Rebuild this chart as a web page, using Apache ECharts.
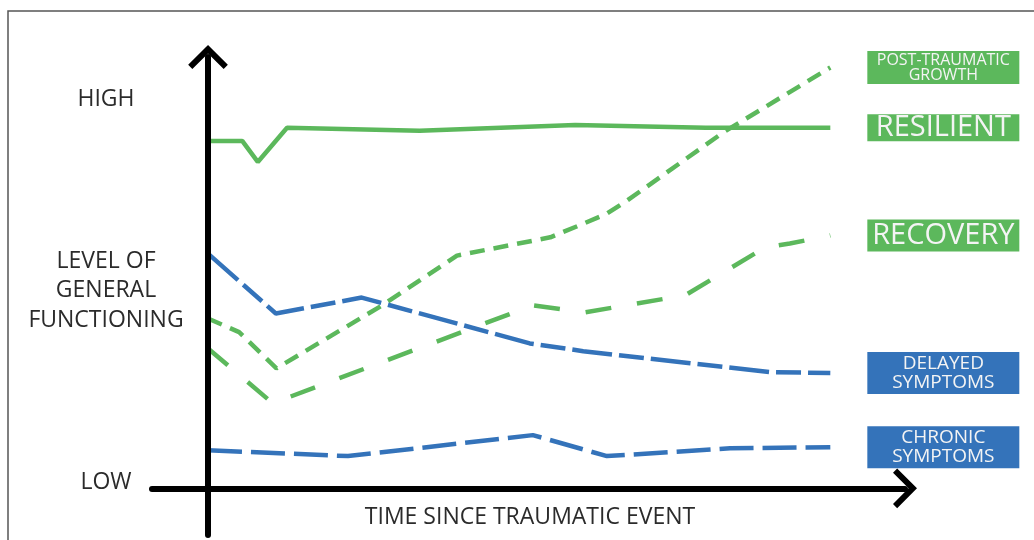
<!DOCTYPE html>
<html>
<head>
<meta charset="utf-8">
<script src="https://cdn.jsdelivr.net/npm/echarts@6/dist/echarts.min.js"></script>
<style>
  html, body { margin: 0; padding: 0; background: #fff; }
  #chart { width: 1034px; height: 540px; }
</style>
</head>
<body>
<div id="chart"></div>
<script>
// x: time since event (0 = event, 100 = end of the lines)
// y: level of functioning (0 = low axis, 100 = "HIGH")
const resilient = [[0, 89.4], [5.5, 89.4], [8, 84], [12.7, 92.8], [34, 92], [59, 93.5], [80, 92.8], [100, 92.8]]
const growth = [[0, 43.7], [5, 40.2], [11, 30.9], [28, 47.1], [40, 59.9], [55, 64.6], [60.3, 68.1], [64.1, 70.7], [67.3, 74], [82.8, 91.6], [100, 108.3]]
const recovery = [[0, 36], [10.4, 21.9], [52.2, 47.1], [60.6, 45.3], [76.7, 49.7], [89.5, 62], [93.5, 63], [100, 65.1]]
const delayed = [[0, 60.4], [10.9, 45], [24.7, 49.1], [51.7, 37.3], [60.3, 35.3], [77.5, 32.2], [90.3, 29.9], [100, 29.7]]
const chronic = [[0, 9.8], [22.5, 8.3], [52.2, 13.7], [64.1, 8.3], [83.9, 10.3], [100, 10.6]]

const seriesData = [growth, resilient, recovery, delayed, chronic]
const seriesNames = ['POST-TRAUMATIC\nGROWTH', 'RESILIENT', 'RECOVERY', 'DELAYED\nSYMPTOMS', 'CHRONIC\nSYMPTOMS']

const yTickValues = [1.6, 50.9, 100]
const yTickLabels = ['LOW', 'LEVEL OF\nGENERAL\nFUNCTIONING', 'HIGH']
const xTitle = 'TIME SINCE TRAUMATIC EVENT'

const GREEN = '#5cb85c'
const BLUE = '#3473ba'
const TEXT = '#2b2b2b'
const FONT = 'Open Sans'

// line + label box style, same order as seriesData
const styles = [
  { color: GREEN, dash: [15, 9], fontSize: 16, lineHeight: 15, padding: [2, 0, 1, 0] },
  { color: GREEN, dash: 'solid', fontSize: 29, lineHeight: 27, padding: [0, 0, 0, 0] },
  { color: GREEN, dash: [26, 26], fontSize: 29, lineHeight: 32, padding: [0, 0, 0, 0] },
  { color: BLUE, dash: [40, 7, 25, 7], fontSize: 19, lineHeight: 19, padding: [2, 0, 2, 0] },
  { color: BLUE, dash: [34, 9], fontSize: 19, lineHeight: 19, padding: [2, 0, 2, 0] }
]

// open chevron arrow head, pointing up
const chevron = 'path://M20 0 L40 20 L35.8 24.2 L20 8.5 L4.2 24.2 L0 20 Z'

const myChart = echarts.init(document.getElementById('chart'))

const series = seriesData.map(function (d, i) {
  const st = styles[i]
  return {
    name: seriesNames[i],
    type: 'line',
    data: d,
    symbol: 'none',
    lineStyle: { color: st.color, width: 4.5, type: st.dash, cap: 'butt' },
    endLabel: {
      show: true,
      distance: 37,
      formatter: function () {
        return seriesNames[i].split('\n').map(function (s) { return '{a|' + s + '}' }).join('\n')
      },
      backgroundColor: st.color,
      padding: st.padding,
      rich: {
        a: {
          width: 152,
          align: 'center',
          fontSize: st.fontSize,
          lineHeight: st.lineHeight,
          fontFamily: FONT,
          color: '#f4f4f4'
        }
      }
    }
  }
})

const option = {
  animation: false,
  backgroundColor: '#fff',
  grid: { left: 152, right: 129, top: 57, bottom: 5, containLabel: false, outerBoundsMode: 'none' },
  xAxis: {
    type: 'value',
    min: -9,
    max: 112,
    z: 5,
    axisLine: {
      show: true,
      onZero: true,
      symbol: ['none', chevron],
      symbolSize: [40, 24],
      lineStyle: { color: '#000', width: 6 }
    },
    axisTick: { show: false },
    axisLabel: { show: false },
    splitLine: { show: false }
  },
  yAxis: {
    type: 'value',
    min: -12,
    max: 111,
    z: 5,
    axisLine: {
      show: true,
      onZero: true,
      symbol: ['none', chevron],
      symbolSize: [40, 24],
      lineStyle: { color: '#000', width: 6 }
    },
    axisTick: { show: false },
    splitLine: { show: false },
    axisLabel: {
      customValues: yTickValues,
      formatter: function (v) {
        let best = 0
        yTickValues.forEach(function (t, k) {
          if (Math.abs(t - v) < Math.abs(yTickValues[best] - v)) best = k
        })
        return yTickLabels[best]
      },
      align: 'center',
      margin: 46,
      fontSize: 23,
      lineHeight: 29.5,
      color: TEXT,
      fontFamily: FONT
    }
  },
  graphic: [
    {
      type: 'polyline',
      silent: true,
      shape: { points: [[8, 540], [8, 11], [1034, 11]] },
      style: { stroke: '#555', lineWidth: 1.5, fill: null }
    },
    {
      // axis title under the time axis
      type: 'text',
      silent: true,
      x: 530,
      y: 517,
      style: {
        text: xTitle,
        align: 'center',
        verticalAlign: 'middle',
        fontSize: 23,
        fontFamily: FONT,
        fill: TEXT
      }
    }
  ],
  series: series
}

myChart.setOption(option)
window.addEventListener('resize', function () {
  myChart.resize()
})
</script>
</body>
</html>
